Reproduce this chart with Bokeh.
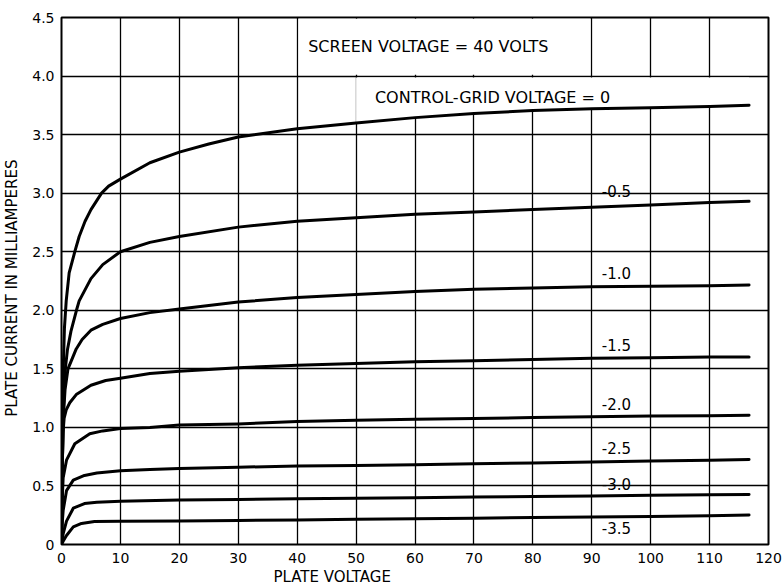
from bokeh.plotting import figure
from bokeh.models import FixedTicker, Label, BoxAnnotation, Title
from bokeh.embed import file_html
from bokeh.resources import INLINE

# ---------------- data ----------------
x_ticks = [0, 10, 20, 30, 40, 50, 60, 70, 80, 90, 100, 110, 120]
y_ticks = [0, 0.5, 1.0, 1.5, 2.0, 2.5, 3.0, 3.5, 4.0, 4.5]
y_tick_labels = ["0", "0.5", "1.0", "1.5", "2.0", "2.5", "3.0", "3.5", "4.0", "4.5"]

v_g00 = [0, 0.1, 0.2, 0.3, 0.5, 0.8, 1.3, 2.26, 3, 4, 5, 6.8, 8, 10, 15, 20, 25, 30, 40, 50, 60, 70, 80, 90, 100, 110, 116.7]
i_g00 = [0, 0.7, 1.2, 1.5, 1.85, 2.08, 2.32, 2.5, 2.63, 2.76, 2.86, 3.0, 3.06, 3.12, 3.26, 3.35, 3.42, 3.48, 3.55, 3.6, 3.645, 3.68, 3.705, 3.72, 3.73, 3.74, 3.75]

v_g05 = [0, 0.15, 0.35, 0.65, 1.0, 1.6, 2.54, 3.0, 5, 7, 10, 15, 20, 30, 40, 50, 60, 70, 80, 90, 100, 110, 116.7]
i_g05 = [0, 0.7, 1.2, 1.5, 1.66, 1.82, 2.0, 2.08, 2.27, 2.39, 2.5, 2.58, 2.63, 2.71, 2.76, 2.79, 2.82, 2.84, 2.86, 2.88, 2.9, 2.92, 2.93]

v_g10 = [0, 0.1, 0.28, 0.6, 1.1, 2.5, 3.5, 5, 7, 10, 15, 20, 30, 40, 50, 60, 70, 80, 90, 100, 110, 116.7]
i_g10 = [0, 0.55, 1.06, 1.32, 1.5, 1.67, 1.75, 1.83, 1.88, 1.93, 1.98, 2.01, 2.07, 2.11, 2.135, 2.16, 2.18, 2.19, 2.2, 2.205, 2.21, 2.215]

v_g15 = [0, 0.1, 0.25, 0.45, 0.8, 1.4, 2.5, 5, 7.5, 10, 15, 20, 30, 40, 50, 60, 70, 80, 90, 100, 110, 116.7]
i_g15 = [0, 0.6, 0.95, 1.08, 1.15, 1.21, 1.28, 1.36, 1.4, 1.42, 1.46, 1.48, 1.51, 1.53, 1.545, 1.56, 1.57, 1.58, 1.59, 1.595, 1.6, 1.6]

v_g20 = [0, 0.1, 0.28, 0.85, 2.26, 4.8, 7, 10, 15, 20, 30, 40, 50, 60, 70, 80, 90, 100, 110, 116.7]
i_g20 = [0, 0.35, 0.57, 0.72, 0.86, 0.945, 0.97, 0.99, 1.0, 1.02, 1.03, 1.05, 1.06, 1.07, 1.075, 1.085, 1.09, 1.097, 1.1, 1.104]

v_g25 = [0, 0.1, 0.28, 0.85, 2.0, 3.9, 6, 10, 15, 20, 30, 40, 50, 60, 70, 80, 90, 100, 110, 116.7]
i_g25 = [0, 0.17, 0.29, 0.46, 0.55, 0.59, 0.61, 0.63, 0.64, 0.65, 0.66, 0.67, 0.675, 0.68, 0.69, 0.695, 0.705, 0.713, 0.72, 0.726]

v_g30 = [0, 0.28, 0.85, 2.0, 3.9, 6, 10, 20, 30, 40, 50, 60, 70, 80, 90, 100, 110, 116.7]
i_g30 = [0, 0.09, 0.2, 0.31, 0.35, 0.36, 0.37, 0.38, 0.385, 0.39, 0.395, 0.4, 0.405, 0.41, 0.415, 0.42, 0.425, 0.427]

v_g35 = [0, 0.3, 0.85, 2.0, 3.4, 5.6, 10, 20, 30, 40, 50, 60, 70, 80, 90, 100, 110, 116.7]
i_g35 = [0, 0.03, 0.077, 0.15, 0.18, 0.196, 0.198, 0.2, 0.205, 0.21, 0.215, 0.22, 0.225, 0.23, 0.234, 0.24, 0.246, 0.252]

bias_labels = ["CONTROL-GRID  VOLTAGE = 0", "-0.5", "-1.0", "-1.5", "-2.0", "-2.5", "-3.0", "-3.5"]
title_text = "SCREEN  VOLTAGE = 40 VOLTS"
x_title = "PLATE  VOLTAGE"
y_title = "PLATE  CURRENT  IN  MILLIAMPERES"

curves = [(v_g00, i_g00), (v_g05, i_g05), (v_g10, i_g10), (v_g15, i_g15),
          (v_g20, i_g20), (v_g25, i_g25), (v_g30, i_g30), (v_g35, i_g35)]

# ---------------- figure ----------------
FONT = "DejaVu Sans"
p = figure(width=784, height=587, x_range=(0, 120), y_range=(0, 4.5),
           output_backend="svg", toolbar_location=None,
           min_border_left=60, min_border_right=16, min_border_top=17, min_border_bottom=43)
p.background_fill_color = "white"
p.border_fill_color = "white"
p.outline_line_color = "black"
p.outline_line_width = 2

for ax in (p.xaxis, p.yaxis):
    ax.axis_line_color = None
    ax.major_tick_line_color = None
    ax.minor_tick_line_color = None
    ax.major_tick_out = 0
    ax.major_tick_in = 0
    ax.major_label_text_font = FONT
    ax.major_label_text_font_size = "14px"
    ax.major_label_text_color = "black"
    ax.axis_label_text_font = FONT
    ax.axis_label_text_font_size = "15px"
    ax.axis_label_text_font_style = "normal"
    ax.axis_label_text_color = "black"

p.xaxis.ticker = FixedTicker(ticks=x_ticks)
p.yaxis.ticker = FixedTicker(ticks=y_ticks)
p.yaxis.major_label_overrides = {t: s for t, s in zip(y_ticks, y_tick_labels)}
p.xaxis.major_label_standoff = 8
p.yaxis.major_label_standoff = 7
p.yaxis.axis_label = y_title
p.yaxis.axis_label_standoff = 8

p.add_layout(Title(text=x_title, align="left", offset=212, text_font=FONT,
                   text_font_size="15px", text_font_style="normal",
                   text_color="black", standoff=0), "below")

for g in (p.xgrid, p.ygrid):
    g.grid_line_color = "black"
    g.grid_line_width = 1.3
    g.grid_line_alpha = 1.0
p.xgrid.ticker = FixedTicker(ticks=x_ticks)
p.ygrid.ticker = FixedTicker(ticks=y_ticks)

# white boxes behind the annotation text (grid interrupted there)
p.add_layout(BoxAnnotation(left=40.25, right=89.75, bottom=4.012, top=4.49,
                           fill_color="white", fill_alpha=1, line_color=None, level="glyph"))
hi = [k for k, v in enumerate(v_g00) if v >= 50]
p.varea(x=[v_g00[k] for k in hi], y1=[i_g00[k] for k in hi], y2=3.988,
        fill_color="white", fill_alpha=1)

for vx, iy in curves:
    p.line(vx, iy, line_color="black", line_width=3, line_join="round", line_cap="round")

# annotations
p.add_layout(Label(x=62.7, y=4.25, text=title_text, text_font=FONT, text_font_size="16px",
                   text_align="center", text_baseline="middle", text_color="black"))
p.add_layout(Label(x=53.2, y=3.82, text=bias_labels[0], text_font=FONT, text_font_size="16px",
                   text_align="left", text_baseline="middle", text_color="black"))
label_y = [3.02, 2.32, 1.70, 1.20, 0.82, 0.52, 0.137]
for txt, ly in zip(bias_labels[1:], label_y):
    p.add_layout(Label(x=91.7, y=ly, text=txt, text_font=FONT, text_font_size="15px",
                       text_align="left", text_baseline="middle", text_color="black"))

open("out.html", "w").write(file_html(p, INLINE))
